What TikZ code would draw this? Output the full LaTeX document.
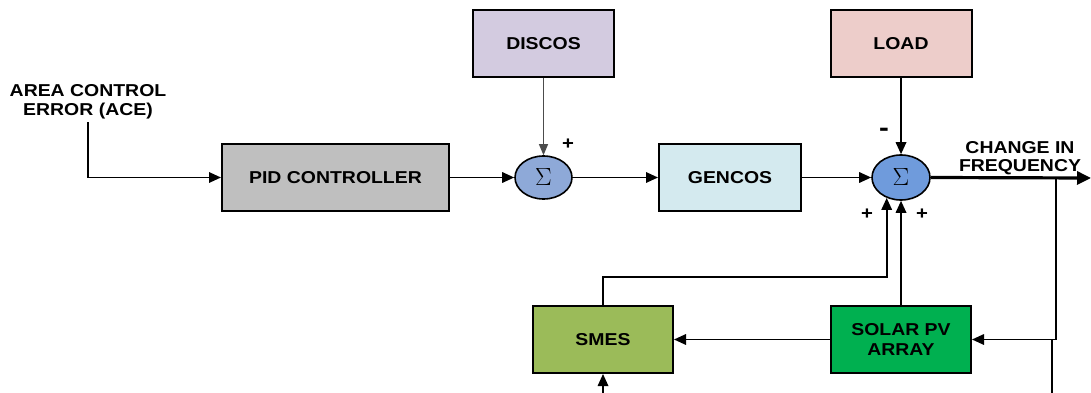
\documentclass[tikz,border=0pt]{standalone}
\usepackage{fontspec}
\setmainfont{Liberation Sans}[FakeStretch=1.13]
\usetikzlibrary{arrows.meta,shapes.geometric,calc}

\definecolor{pidgray}{HTML}{BFBFBF}
\definecolor{discoslav}{HTML}{D3CBE0}
\definecolor{loadpink}{HTML}{EDCDCA}
\definecolor{gencocyan}{HTML}{D4EAEF}
\definecolor{smesgreen}{HTML}{9BBB59}
\definecolor{solargreen}{HTML}{00B050}
\definecolor{sumblueA}{HTML}{8EA9D8}
\definecolor{sumblueB}{HTML}{6F9BDC}

\tikzset{
  block/.style={draw=black, line width=2pt, minimum width=140pt, minimum height=67pt,
    font=\fontsize{17.2}{19.5}\selectfont\bfseries, align=center, inner sep=0pt},
  summer/.style={draw=black, line width=1.6pt, ellipse, inner sep=0pt,
    font=\fontsize{32}{32}\selectfont},
  conn/.style={draw=black, line width=1.7pt, -{Triangle[length=12pt,width=10.5pt]}},
  thinconn/.style={draw=black!70, line width=1pt, -{Triangle[length=11pt,width=9pt]}},
  plain/.style={draw=black, line width=1.7pt},
  sign/.style={font=\fontsize{18}{18}\selectfont\bfseries, inner sep=0pt},
  lbl/.style={font=\fontsize{17.2}{18.5}\selectfont\bfseries, align=center, inner sep=0pt}
}

\begin{document}
\begin{tikzpicture}[x=1pt, y=-1pt]
  \useasboundingbox (0,0) rectangle (1091,393);

  % blocks
  \node[block, fill=pidgray, minimum width=227pt] (pid) at (335.5,177.5) {PID CONTROLLER};
  \node[block, fill=discoslav, minimum width=141pt] (discos) at (543.5,43.5) {DISCOS};
  \node[block, fill=gencocyan, minimum width=142pt] (gencos) at (730,177.5) {GENCOS};
  \node[block, fill=loadpink, minimum width=141pt] (load) at (901,43.5) {LOAD};
  \node[block, fill=smesgreen, minimum width=140pt] (smes) at (603,339.5) {SMES};
  \node[block, fill=solargreen, minimum width=140pt] (solar) at (901,339.5) {SOLAR PV\\ARRAY};

  % summing junctions
  \node[summer, fill=sumblueA, minimum width=57pt, minimum height=43pt] (sum1) at (543.5,177.5) {$\Sigma$};
  \node[summer, fill=sumblueB, minimum width=58pt, minimum height=45pt] (sum2) at (901,177.5) {$\Sigma$};

  % labels
  \node[lbl] (ace) at (88,102) {AREA CONTROL\\ERROR (ACE)};
  \node[lbl] (freq) at (1020,158) {CHANGE IN\\FREQUENCY};

  % sign marks
  \node[sign] (s1) at (568,144) {+};
  \node[sign, font=\fontsize{26}{26}\selectfont\bfseries] (s2) at (884,132) {-};
  \node[sign] (s3) at (867,214) {+};
  \node[sign] (s4) at (922,214) {+};

  % free ends
  \coordinate (acetop) at (88,122);
  \coordinate (out) at (1091,178);
  \coordinate (br) at (1056,178);
  \coordinate (lowin) at (1052,393);
  \coordinate (lowjoin) at (1052,339.5);
  \coordinate (smesin) at (603,393);

  % forward path
  \draw[conn] (acetop) |- (pid.west);
  \draw[conn] (pid.east) -- (sum1.west);
  \draw[thinconn] (discos.south) -- (sum1.north);
  \draw[conn] (sum1.east) -- (gencos.west);
  \draw[conn] (gencos.east) -- (sum2.west);
  \draw[conn] (load.south) -- (sum2.north);
  \draw[draw=black, line width=3.2pt, -{Triangle[length=14pt,width=13pt]}] (sum2.east) -- (out);

  % feedback paths
  \draw[conn] (br) |- (solar.east);
  \draw[plain] (lowin) -- (lowjoin);
  \draw[conn] (solar.west) -- (smes.east);
  \draw[conn] (solar.north) -- (sum2.south);
  \draw[conn] (smes.north) -- ++(0,-28) -| (sum2.235);
  \draw[conn] (smesin) -- (smes.south);
\end{tikzpicture}
\end{document}
